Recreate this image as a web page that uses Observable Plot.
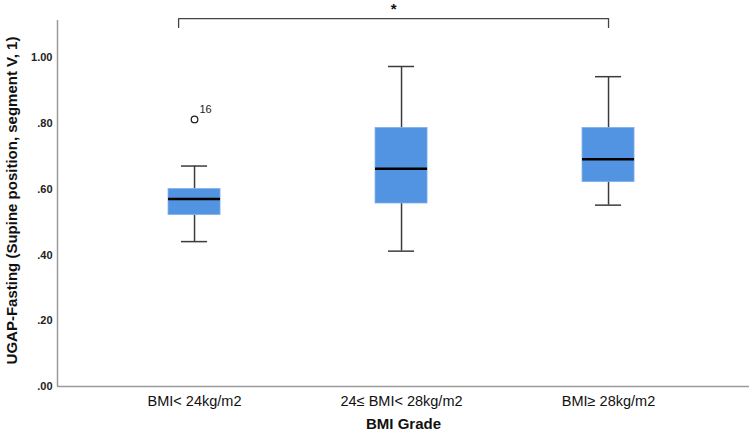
<!DOCTYPE html>
<html>
<head>
<meta charset="utf-8">
<script src="https://cdn.jsdelivr.net/npm/d3@7"></script>
<script src="https://cdn.jsdelivr.net/npm/@observablehq/plot@0.6"></script>
<style>
  html, body { margin: 0; padding: 0; background: #fff; }
  svg { font-family: "Liberation Sans", Arial, sans-serif; }
</style>
</head>
<body>
<div id="chart"></div>
<script>
// ---- data ----
const groups       = ["BMI< 24kg/m2", "24≤ BMI< 28kg/m2", "BMI≥ 28kg/m2"];
const whiskerLow   = [0.441, 0.412, 0.552];
const quart1       = [0.522, 0.557, 0.622];
const medians      = [0.571, 0.663, 0.692];
const quart3       = [0.601, 0.787, 0.787];
const whiskerHigh  = [0.671, 0.974, 0.943];
const outlierGroup = ["BMI< 24kg/m2"];
const outlierValue = [0.813];
const outlierCase  = ["16"];
const yTicks       = [0, 0.2, 0.4, 0.6, 0.8, 1.0];
const xTitle = "BMI Grade";
const yTitle = "UGAP-Fasting (Supine position, segment V, 1)";
const sigFrom = "BMI< 24kg/m2";
const sigTo   = "BMI≥ 28kg/m2";
const sigLabel = "*";

// ---- derived tables ----
const pos = g => groups.indexOf(g) + 1;
const rows = groups.map((g, i) => ({
  g, x: i + 1, lo: whiskerLow[i], q1: quart1[i], med: medians[i], q3: quart3[i], hi: whiskerHigh[i]
}));
const outliers = outlierGroup.map((g, i) => ({x: pos(g), y: outlierValue[i], label: outlierCase[i]}));

const boxHalf = 0.1256;   // half box width (in group units)
const capHalf = 0.063;    // half whisker-cap width
const yMax = 1.114;
const xDomain = [0.338, 3.681];

const bracketY = 1.12, bracketDrop = 0.027;
const bx1 = pos(sigFrom) - 0.077, bx2 = pos(sigTo);
const bracket = [
  {x: bx1, y: bracketY - bracketDrop}, {x: bx1, y: bracketY},
  {x: bx2, y: bracketY}, {x: bx2, y: bracketY - bracketDrop}
];

const fmtY = d => d3.format(".2f")(d).replace(/^0\./, ".");

const chart = Plot.plot({
  width: 749,
  height: 438,
  marginLeft: 57,
  marginRight: 0,
  marginTop: 20,
  marginBottom: 52,
  style: {fontFamily: "'Liberation Sans', Arial, sans-serif", background: "#fff"},
  x: {domain: xDomain, axis: null},
  y: {domain: [0, yMax], axis: null},
  marks: [
    // y tick labels
    Plot.text(yTicks, {x: xDomain[0], y: d => d, text: fmtY, textAnchor: "end", dx: -5,
      fontSize: 11, fill: "#222", fontWeight: "bold"}),
    // x tick labels
    Plot.text(rows, {x: "x", y: 0, text: "g", dy: 15, fontSize: 14.5, fill: "#111"}),
    // axis lines
    Plot.ruleX([xDomain[0]], {y1: 0, y2: yMax, stroke: "#9a9a9a", strokeWidth: 1.5}),
    Plot.ruleY([0], {x1: xDomain[0], x2: xDomain[1], stroke: "#9a9a9a", strokeWidth: 1.5}),
    // whiskers
    Plot.ruleX(rows, {x: "x", y1: "q3", y2: "hi", stroke: "#3c3c3c", strokeWidth: 1.5}),
    Plot.ruleX(rows, {x: "x", y1: "lo", y2: "q1", stroke: "#3c3c3c", strokeWidth: 1.5}),
    Plot.ruleY(rows, {y: "hi", x1: d => d.x - capHalf, x2: d => d.x + capHalf, stroke: "#3c3c3c", strokeWidth: 1.5}),
    Plot.ruleY(rows, {y: "lo", x1: d => d.x - capHalf, x2: d => d.x + capHalf, stroke: "#3c3c3c", strokeWidth: 1.5}),
    // boxes
    Plot.rect(rows, {x1: d => d.x - boxHalf, x2: d => d.x + boxHalf, y1: "q1", y2: "q3",
      fill: "#5294e2", stroke: "#7fb0ea", strokeWidth: 0.8}),
    // medians
    Plot.ruleY(rows, {y: "med", x1: d => d.x - boxHalf, x2: d => d.x + boxHalf, stroke: "#000", strokeWidth: 2.5}),
    // outliers
    Plot.dot(outliers, {x: "x", y: "y", r: 3.3, stroke: "#222", strokeWidth: 1.3, fill: "#fff"}),
    Plot.text(outliers, {x: "x", y: "y", text: "label", dx: 11, dy: -10, fontSize: 11, fill: "#222"}),
    // significance bracket
    Plot.line(bracket, {x: "x", y: "y", stroke: "#444", strokeWidth: 1.3}),
    Plot.text([sigLabel], {x: (bx1 + bx2) / 2, y: bracketY, text: d => d, dy: -9, fontSize: 15, fontWeight: "bold", fill: "#111"}),
    // axis titles
    Plot.text([xTitle], {frameAnchor: "bottom", text: d => d, textAnchor: "middle", dy: 42, fontSize: 15, fontWeight: "bold", fill: "#111"}),
    Plot.text([yTitle], {frameAnchor: "left", text: d => d, textAnchor: "middle", dx: -45, dy: -3, rotate: -90, fontSize: 15, fontWeight: "bold", fill: "#111"})
  ]
});
document.getElementById("chart").appendChild(chart);
</script>
</body>
</html>
